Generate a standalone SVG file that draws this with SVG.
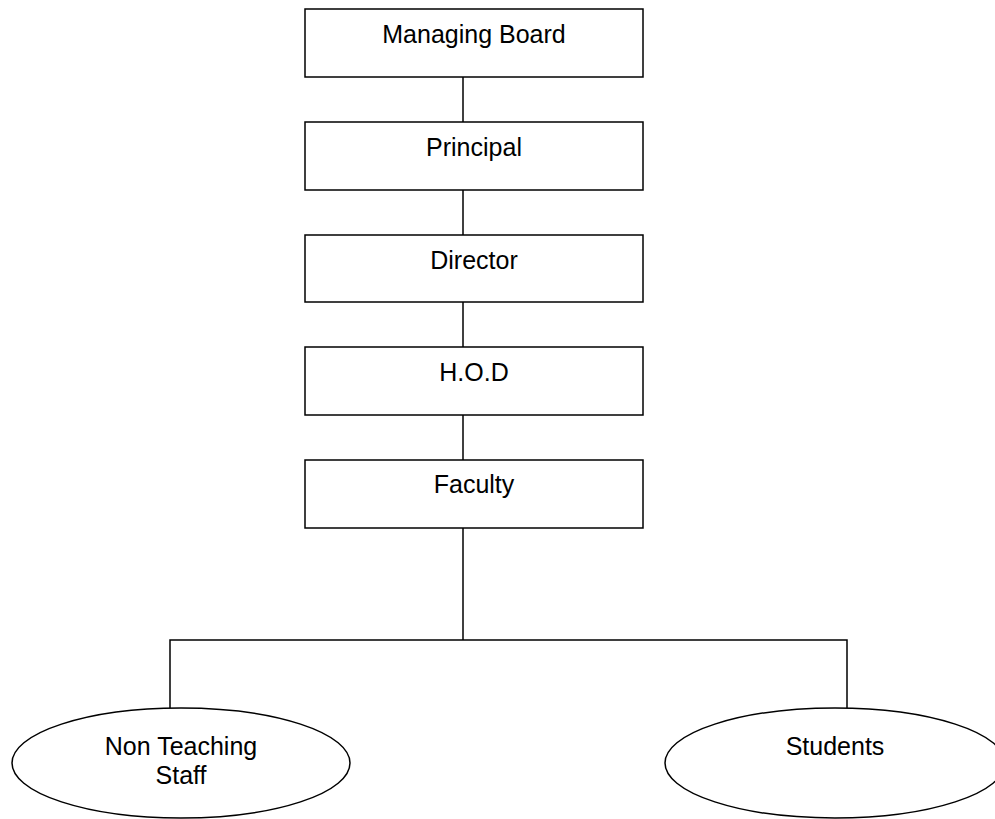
<svg xmlns="http://www.w3.org/2000/svg" width="995" height="819" viewBox="0 0 995 819">
<style>
.box{fill:#fff;stroke:#000;stroke-width:1.5}
.ln{fill:none;stroke:#000;stroke-width:1.5}
.t{font-family:"Liberation Sans",Arial,sans-serif;font-size:25px;fill:#000;text-anchor:middle}
</style>
<rect width="995" height="819" fill="#fff"/>
<g id="connectors">
<line class="ln" x1="463" y1="77" x2="463" y2="122"/>
<line class="ln" x1="463" y1="190" x2="463" y2="235"/>
<line class="ln" x1="463" y1="302" x2="463" y2="347"/>
<line class="ln" x1="463" y1="415" x2="463" y2="460"/>
<polyline class="ln" points="463,528 463,640"/>
<polyline class="ln" points="170,708 170,640 847,640 847,708"/>
</g>
<g id="managing-board"><rect class="box" x="305" y="9" width="338" height="68"/><text class="t" x="474" y="43">Managing Board</text></g>
<g id="principal"><rect class="box" x="305" y="122" width="338" height="68"/><text class="t" x="474" y="156">Principal</text></g>
<g id="director"><rect class="box" x="305" y="235" width="338" height="67"/><text class="t" x="474" y="269">Director</text></g>
<g id="hod"><rect class="box" x="305" y="347" width="338" height="68"/><text class="t" x="474" y="381">H.O.D</text></g>
<g id="faculty"><rect class="box" x="305" y="460" width="338" height="68"/><text class="t" x="474" y="493">Faculty</text></g>
<g id="non-teaching-staff"><ellipse class="box" cx="181" cy="763" rx="169" ry="55"/><text class="t" x="181" y="755">Non Teaching</text><text class="t" x="181" y="784">Staff</text></g>
<g id="students"><ellipse class="box" cx="835" cy="763" rx="170" ry="55"/><text class="t" x="835" y="755">Students</text></g>
</svg>
